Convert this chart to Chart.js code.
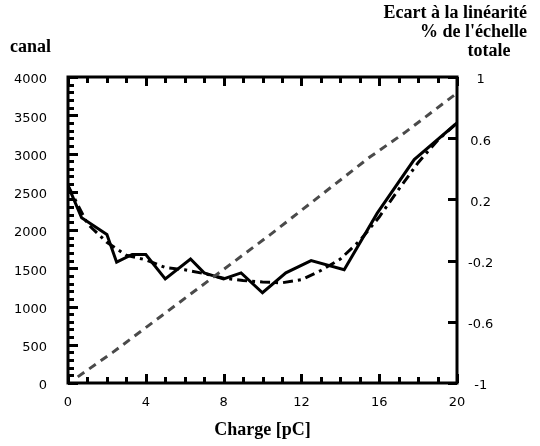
<!DOCTYPE html>
<html>
<head>
<meta charset="utf-8">
<script src="https://cdn.jsdelivr.net/npm/chart.js@4.4.1/dist/chart.umd.min.js"></script>
<style>
  html, body { margin: 0; padding: 0; background: #fff; }
</style>
</head>
<body>
<canvas id="myChart" width="540" height="446"></canvas>
<script>
// droite canal = f(charge), axe de gauche
var chargeLin = [0.5, 2.3, 5.5, 10.4, 15.5, 17.3, 20];
var canalLin = [80, 400, 1010, 1940, 2950, 3270, 3790];

// ecart a la linearite mesure (trait plein), axe de droite
var chargeEcart = [0, 0.7, 2.0, 2.5, 3.3, 4.0, 5.0, 6.3, 7.0, 8.0, 8.9, 10.0, 11.2, 12.5, 14.2, 15.9, 17.8, 20];
var ecart = [0.29, 0.08, -0.03, -0.21, -0.16, -0.16, -0.32, -0.19, -0.28, -0.32, -0.28, -0.41, -0.28, -0.20, -0.26, 0.11, 0.46, 0.70];

// ecart lisse (tiret-point)
var chargeLisse = [0, 1, 2, 3, 4, 5, 6, 7, 8, 9, 10, 11, 12, 13, 14, 15, 16, 17, 18, 19, 20];
var ecartLisse = [0.29, 0.04, -0.08, -0.165, -0.195, -0.245, -0.26, -0.285, -0.315, -0.33, -0.34, -0.345, -0.325, -0.265, -0.19, -0.07, 0.085, 0.265, 0.44, 0.585, 0.70];

// tick labels
var xTicks = [0, 4, 8, 12, 16, 20];
var leftTicks = [0, 500, 1000, 1500, 2000, 2500, 3000, 3500, 4000];
var rightTicks = [-1, -0.6, -0.2, 0.2, 0.6, 1];

function pts(xs, ys) {
    return xs.map(function (x, i) { return {x: x, y: ys[i]}; });
}
function fixTicks(list) {
    return function (s) { s.ticks = list.map(function (v) { return {value: v}; }); };
}
function plain(v) { return String(v); }

var tickFont = {family: 'DejaVu Sans', size: 13};

/*********************************************/
// cadre + graduations vers l'interieur + titres
var axisFrame = {
    id: 'axisFrame',
    afterDraw: function (chart) {
        var g = chart.ctx;
        var a = chart.chartArea;
        var sx = chart.scales.x, sy = chart.scales.y, sr = chart.scales.y1;
        g.save();
        g.setLineDash([]);
        g.strokeStyle = '#000';
        g.lineWidth = 3;
        g.strokeRect(a.left, a.top, a.right - a.left, a.bottom - a.top);

        g.fillStyle = '#000';
        var i, p, n;
        for (i = 0; i <= 20; i++) {
            p = Math.round(sx.getPixelForValue(i));
            n = (i % 4 === 0) ? 9 : 6;
            g.fillRect(p - 1, a.bottom - n, 3, n);
            g.fillRect(p - 1, a.top, 3, n);
        }
        for (i = 0; i <= 40; i++) {
            p = Math.round(sy.getPixelForValue(i * 100));
            n = (i % 5 === 0) ? 10 : 6;
            g.fillRect(a.left, p - 1, n, 3);
        }
        for (i = 0; i < rightTicks.length; i++) {
            p = Math.round(sr.getPixelForValue(rightTicks[i]));
            g.fillRect(a.right - 9, p - 1, 9, 3);
        }

        g.font = 'bold 18px "Liberation Serif"';
        g.textBaseline = 'middle';
        g.textAlign = 'left';
        g.fillText('canal', 10, 47);
        g.textAlign = 'right';
        g.fillText('Ecart à la linéarité', 527, 13);
        g.fillText("% de l'échelle", 527, 32);
        g.textAlign = 'center';
        g.fillText('totale', 489, 51);
        g.restore();
    }
};

var ctx = document.getElementById('myChart').getContext('2d');
var chart = new Chart(ctx, {
    type: 'line',
    data: {
        datasets: [{
            data: pts(chargeLin, canalLin),
            yAxisID: 'y',
            borderColor: '#4a4a4a',
            borderWidth: 3,
            borderDash: [8, 6],
            pointRadius: 0,
            fill: false
        }, {
            data: pts(chargeLisse, ecartLisse),
            yAxisID: 'y1',
            borderColor: '#000',
            borderWidth: 3,
            borderDash: [10, 5, 3, 5],
            pointRadius: 0,
            fill: false
        }, {
            data: pts(chargeEcart, ecart),
            yAxisID: 'y1',
            borderColor: '#000',
            borderWidth: 3,
            pointRadius: 0,
            fill: false
        }]
    },
    options: {
        responsive: false,
        animation: false,
        devicePixelRatio: 1,
        layout: {padding: {top: 77, left: 0, right: 0, bottom: 0}},
        plugins: {legend: {display: false}, tooltip: {enabled: false}},
        scales: {
            x: {
                type: 'linear',
                position: 'bottom',
                min: 0, max: 20,
                afterBuildTicks: fixTicks(xTicks),
                afterFit: function (s) { s.height = 63; },
                grid: {display: false, drawTicks: false},
                border: {display: false},
                ticks: {font: tickFont, color: '#000', padding: 12, maxRotation: 0, callback: plain},
                title: {
                    display: true,
                    text: 'Charge [pC]',
                    color: '#000',
                    font: {family: 'Liberation Serif', size: 18, weight: 'bold'},
                    padding: {top: 0, bottom: 5}
                }
            },
            y: {
                position: 'left',
                min: 0, max: 4000,
                afterBuildTicks: fixTicks(leftTicks),
                afterFit: function (s) { s.width = 68; },
                grid: {display: false, drawTicks: false},
                border: {display: false},
                ticks: {font: tickFont, color: '#000', padding: 21, labelOffset: 3, callback: plain}
            },
            y1: {
                position: 'right',
                min: -1, max: 1,
                afterBuildTicks: fixTicks(rightTicks),
                afterFit: function (s) { s.width = 83; },
                grid: {display: false, drawTicks: false},
                border: {display: false},
                ticks: {font: tickFont, color: '#000', padding: 11, crossAlign: 'center', labelOffset: 3, callback: plain}
            }
        }
    },
    plugins: [axisFrame]
});
</script>
</body>
</html>
